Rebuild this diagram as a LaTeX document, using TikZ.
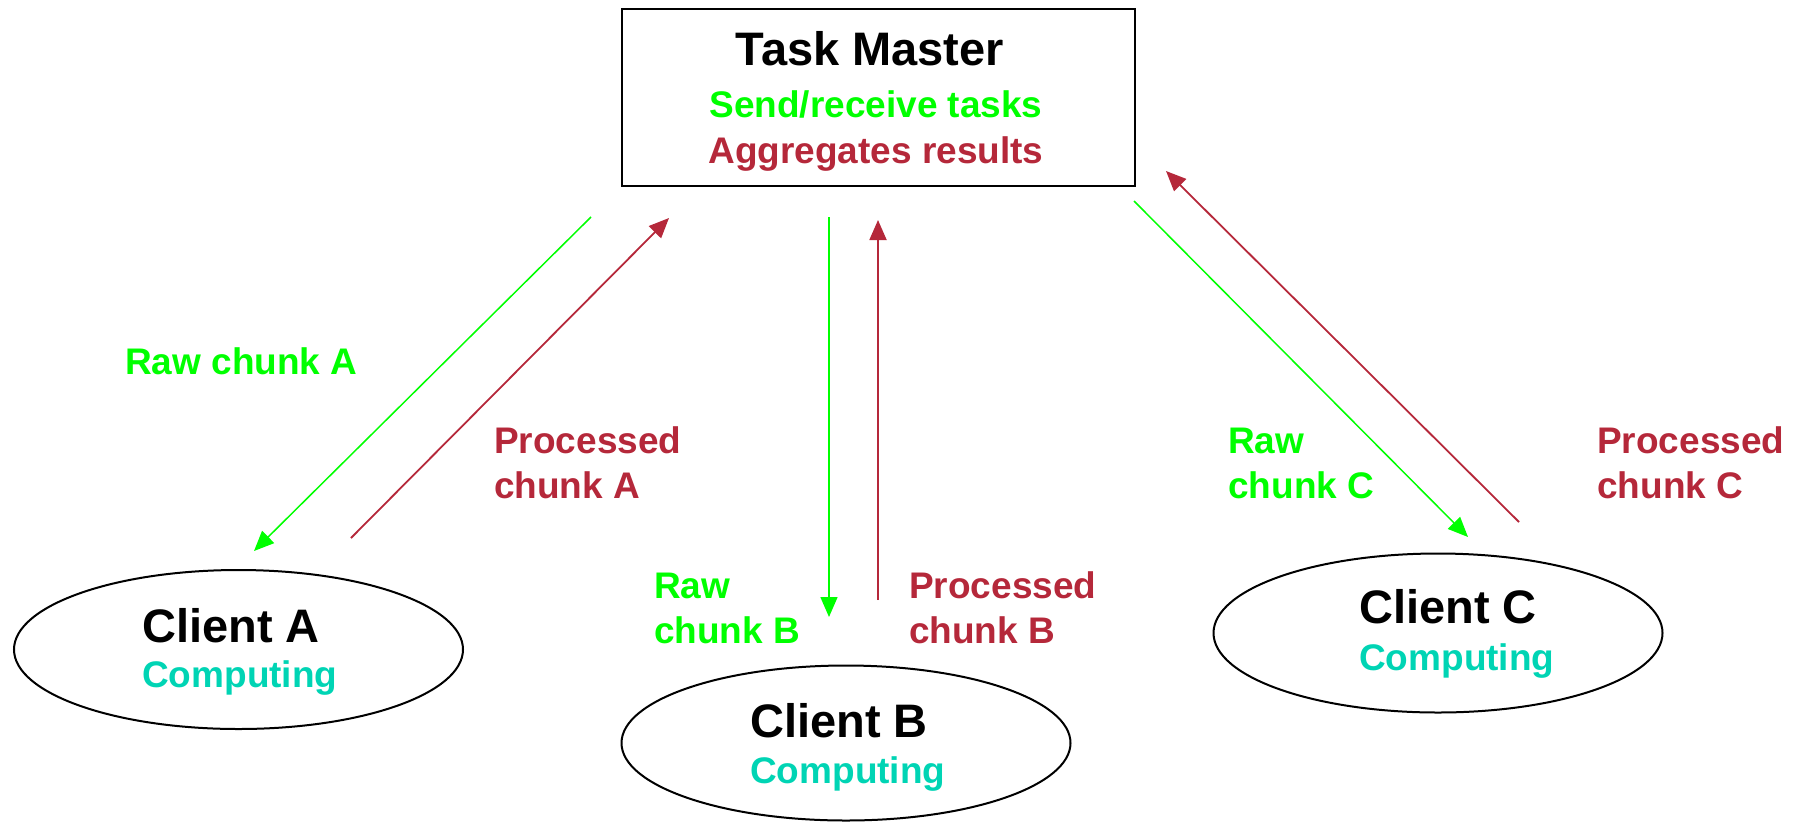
\documentclass[tikz,border=0pt]{standalone}
\usepackage{fontspec}
\setmainfont{Liberation Sans}
\usetikzlibrary{arrows.meta,shapes.geometric}
\definecolor{rawgreen}{RGB}{0,255,0}
\definecolor{procred}{RGB}{181,40,58}
\definecolor{computeteal}{RGB}{0,212,180}
\begin{document}
\begin{tikzpicture}[x=1pt,y=-1pt,
  title/.style={font=\fontsize{47}{56}\selectfont\bfseries, inner sep=0pt},
  sub/.style={font=\fontsize{37}{45}\selectfont\bfseries, inner sep=0pt},
  lbl/.style={sub, anchor=base west},
  client/.style={draw, ellipse, line width=2pt, inner sep=0pt,
                 minimum width=449pt, minimum height=159pt},
  flow/.style={line width=1.8pt, -{Triangle[length=20pt,width=17pt]}},
  rawflow/.style={flow, draw=rawgreen, fill=rawgreen, line width=1.5pt},
  procflow/.style={flow, draw=procred, fill=procred}]

\useasboundingbox (0,0) rectangle (1798,823);

% master box and its caption
\node[draw, line width=2pt, minimum width=513pt, minimum height=177pt, inner sep=0pt]
  (master) at (878.5,97.5) {};
\node[title, anchor=base] (masterTitle) at (870,65) {Task Master};
\node[sub, anchor=base, text=rawgreen] (masterSend) at (876,117) {Send/receive tasks};
\node[sub, anchor=base, text=procred] (masterAgg) at (876,163) {Aggregates results};

% client ellipses
\node[client] (clientA) at (238.5,649.5) {};
\node[client, minimum height=155pt] (clientB) at (846,743) {};
\node[client] (clientC) at (1438,633) {};

\node[title, anchor=base west] (clientAName) at (142,642) {Client A};
\node[lbl, text=computeteal] (clientAState) at (142,687) {Computing};
\node[title, anchor=base west] (clientBName) at (750,737) {Client B};
\node[lbl, text=computeteal] (clientBState) at (750,783) {Computing};
\node[title, anchor=base west] (clientCName) at (1359,623) {Client C};
\node[lbl, text=computeteal] (clientCState) at (1359,670) {Computing};

% arrow end points
\coordinate (rawAs) at (591,217);   \coordinate (rawAe) at (254,551);
\coordinate (procAs) at (351,538);  \coordinate (procAe) at (669,218);
\coordinate (rawBs) at (829,217);   \coordinate (rawBe) at (829,617);
\coordinate (procBs) at (878,600);  \coordinate (procBe) at (878,220);
\coordinate (rawCs) at (1134,201);  \coordinate (rawCe) at (1468,537);
\coordinate (procCs) at (1519,522); \coordinate (procCe) at (1166,171);

\draw[rawflow] (rawAs) -- (rawAe);
\draw[procflow] (procAs) -- (procAe);
\draw[rawflow] (rawBs) -- (rawBe);
\draw[procflow] (procBs) -- (procBe);
\draw[rawflow] (rawCs) -- (rawCe);
\draw[procflow] (procCs) -- (procCe);

% flow labels
\node[lbl, text=rawgreen] (rawALbl) at (125,374) {Raw chunk A};
\node[lbl, text=procred] (procALbl1) at (494,453) {Processed};
\node[lbl, text=procred] (procALbl2) at (494,498) {chunk A};
\node[lbl, text=rawgreen] (rawBLbl1) at (654,598) {Raw};
\node[lbl, text=rawgreen] (rawBLbl2) at (654,643) {chunk B};
\node[lbl, text=procred] (procBLbl1) at (909,598) {Processed};
\node[lbl, text=procred] (procBLbl2) at (909,643) {chunk B};
\node[lbl, text=rawgreen] (rawCLbl1) at (1228,453) {Raw};
\node[lbl, text=rawgreen] (rawCLbl2) at (1228,498) {chunk C};
\node[lbl, text=procred] (procCLbl1) at (1597,453) {Processed};
\node[lbl, text=procred] (procCLbl2) at (1597,498) {chunk C};
\end{tikzpicture}
\end{document}
